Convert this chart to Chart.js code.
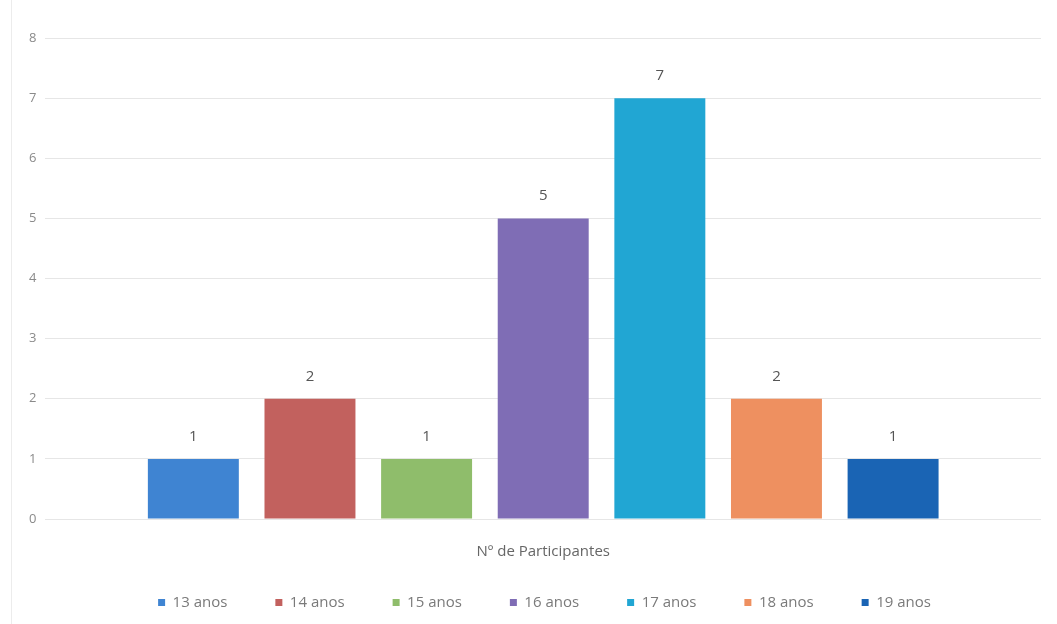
<!DOCTYPE html>
<html lang="pt">
<head>
    <meta charset="UTF-8">
    <title>Nº de Participantes</title>
    <script src="https://cdn.jsdelivr.net/npm/chart.js"></script>
    <style>
        html, body { margin: 0; padding: 0; background: #fff; }
        #wrap { position: relative; width: 1057px; height: 624px; }
        #wrap::before { content: ''; position: absolute; left: 11px; top: 0; bottom: 0; border-left: 1px solid #ececec; }
    </style>
</head>
<body>
    <div id="wrap"><canvas id="idadeChart"></canvas></div>

    <script>
        const categories = ['Nº de Participantes'];
        const ageLabels = ['13 anos', '14 anos', '15 anos', '16 anos', '17 anos', '18 anos', '19 anos'];
        const participants = [1, 2, 1, 5, 7, 2, 1];
        const barColors = ['#3f84d2', '#c2615e', '#8fbd6b', '#7f6db5', '#21a6d3', '#ee9060', '#1a64b4'];
        const yTicks = [0, 1, 2, 3, 4, 5, 6, 7, 8];

        Chart.defaults.font.family = "'Open Sans', 'Noto Sans', sans-serif";
        Chart.defaults.color = '#7a7a7a';

        // draws the value above each bar
        const valueLabels = {
            id: 'valueLabels',
            afterDatasetsDraw(chart) {
                const ctx = chart.ctx;
                ctx.save();
                ctx.font = "15px 'Open Sans', sans-serif";
                ctx.fillStyle = '#555';
                ctx.textAlign = 'center';
                ctx.textBaseline = 'bottom';
                chart.data.datasets.forEach((ds, i) => {
                    chart.getDatasetMeta(i).data.forEach((bar, j) => {
                        ctx.fillText(ds.data[j], bar.x, bar.y - 15);
                    });
                });
                ctx.restore();
            }
        };

        // legend keeps wide item spacing but takes less height above it
        const GAP_CUT = 30;
        const LEGEND_SHIFT = 14;
        const legendGap = {
            id: 'legendGap',
            afterInit(chart) {
                const fit = chart.legend.fit;
                chart.legend.fit = function () {
                    fit.call(this);
                    this.height -= GAP_CUT;
                };
            },
            afterLayout(chart) {
                chart.legend.top -= GAP_CUT;
                chart.legend.left += LEGEND_SHIFT;
                chart.legend.right += LEGEND_SHIFT;
            }
        };

        const datasets = ageLabels.map((label, i) => ({
            label: label,
            data: [participants[i]],
            backgroundColor: barColors[i],
            borderWidth: 0
        }));

        new Chart(document.getElementById('idadeChart'), {
            type: 'bar',
            data: { labels: categories, datasets: datasets },
            options: {
                responsive: true,
                maintainAspectRatio: false,
                animation: false,
                categoryPercentage: 0.82,
                barPercentage: 0.78,
                layout: { padding: { left: 20, right: 16, top: 38, bottom: 4 } },
                plugins: {
                    legend: {
                        position: 'bottom',
                        labels: {
                            boxWidth: 7,
                            boxHeight: 7,
                            padding: 48,
                            font: { size: 15 },
                            color: '#7a7a7a'
                        }
                    },
                    tooltip: { enabled: false }
                },
                scales: {
                    x: {
                        grid: { display: false },
                        border: { display: false },
                        ticks: { font: { size: 15 }, color: '#666', padding: 16 }
                    },
                    y: {
                        min: 0,
                        max: 8,
                        afterBuildTicks: axis => { axis.ticks = yTicks.map(v => ({ value: v })); },
                        grid: { color: '#e6e6e6', drawTicks: false },
                        border: { display: false },
                        ticks: { font: { size: 13 }, color: '#8a8a8a', padding: 9 }
                    }
                }
            },
            plugins: [valueLabels, legendGap]
        });
    </script>
</body>
</html>
